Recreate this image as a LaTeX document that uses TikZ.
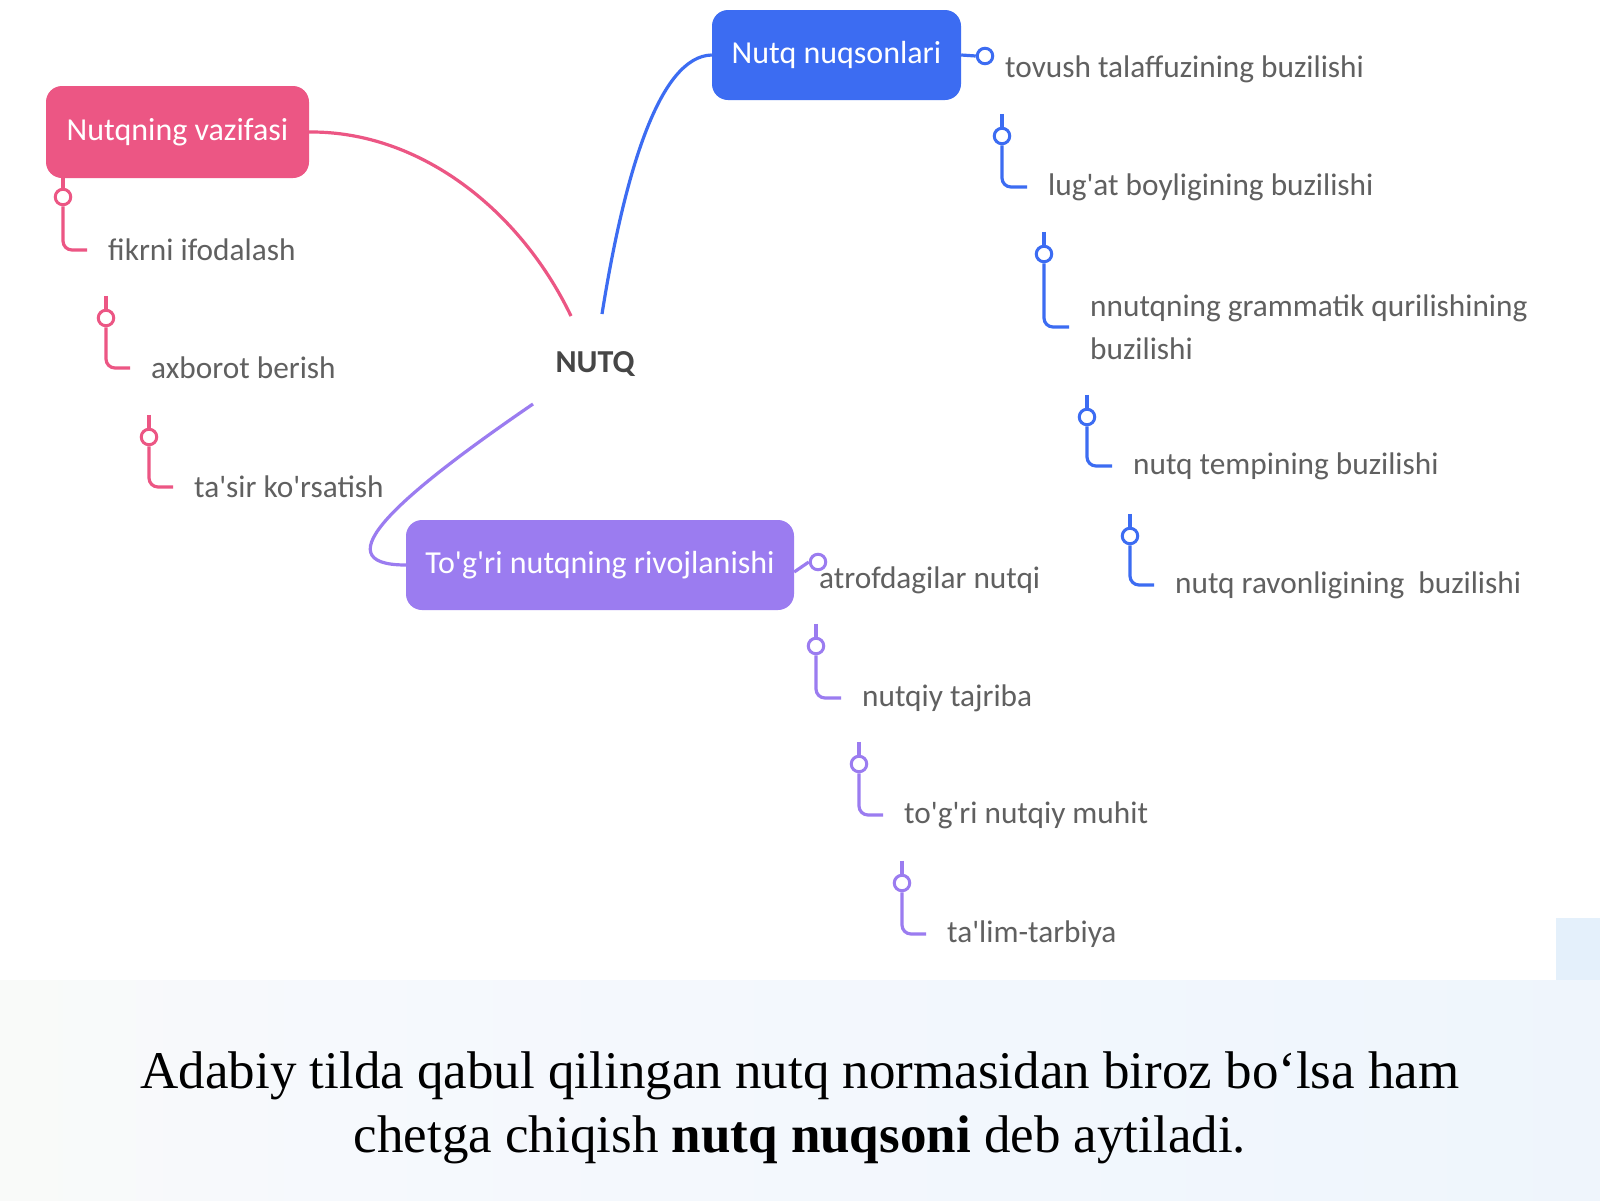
\documentclass[tikz,border=0pt]{standalone}
\usepackage{fontspec}
\newfontfamily\itemfont{Carlito}
\newfontfamily\capfont{Liberation Serif}
\definecolor{pinkc}{RGB}{236,86,132}
\definecolor{bluec}{RGB}{60,108,242}
\definecolor{purpc}{RGB}{155,124,240}
\definecolor{txtgray}{RGB}{96,96,96}
\definecolor{nutqgray}{RGB}{70,70,70}
\definecolor{creamA}{RGB}{252,248,234}
\definecolor{creamB}{RGB}{253,251,243}
\definecolor{bandB}{RGB}{246,249,253}
\definecolor{bandC}{RGB}{234,243,252}
\definecolor{stripc}{RGB}{228,240,251}
\pgfdeclarehorizontalshading{bandshade}{100bp}{color(0bp)=(creamA); color(12bp)=(creamB); color(35bp)=(bandB); color(100bp)=(bandC)}
\begin{document}
\begin{tikzpicture}[x=1pt,y=-1pt,
  topbox/.style={rounded corners=16pt, inner sep=0pt, text=white,
    font=\itemfont\fontsize{32}{38}\selectfont},
  itemtext/.style={anchor=west, inner sep=0pt, text=txtgray, align=left,
    font=\itemfont\fontsize{31.3}{43}\selectfont},
  dotc/.style={circle, line width=3pt, minimum size=15.5pt, inner sep=0pt, fill=white},
  link/.style={line width=3.2pt},
  hook/.style={line width=3.2pt, rounded corners=9pt}
]
\useasboundingbox (0,0) rectangle (1600,1200);
% background
\fill[white] (0,0) rectangle (1600,1200);
\shade[shading=bandshade] (0,980) rectangle (1600,1200);
\fill[stripc] (1556,918) rectangle (1600,980);

% central label
\node[font=\itemfont\bfseries\fontsize{32}{38}\selectfont, text=nutqgray, inner sep=0pt] (nutq) at (595,364) {NUTQ};
\coordinate (pEnd) at (571,316);
\coordinate (bEnd) at (602,314);
\coordinate (qEnd) at (533,404);

% main boxes
\node[topbox, fill=pinkc, minimum width=263pt, minimum height=92pt] (pbox) at (177.5,132) {Nutqning vazifasi};
\node[topbox, fill=bluec, minimum width=249pt, minimum height=90pt] (bbox) at (836.5,55) {Nutq nuqsonlari};
\node[topbox, fill=purpc, minimum width=388pt, minimum height=90pt] (qbox) at (600,565) {To\textquotesingle g\textquotesingle ri nutqning rivojlanishi};

% main connectors
\draw[link, pinkc] (pbox.east) .. controls (420,131) and (520,210) .. (pEnd);
\draw[link, bluec] (bbox.west) .. controls (660,56) and (625,170) .. (bEnd);
\draw[link, purpc] (qEnd) .. controls (400,495) and (320,565) .. (qbox.west);

% pink items
\node[dotc, draw=pinkc] (p1c) at (63,197) {};
\node[dotc, draw=pinkc] (p2c) at (106,318) {};
\node[dotc, draw=pinkc] (p3c) at (149,437) {};
\node[itemtext] (p1) at (108,250) {fikrni ifodalash};
\node[itemtext] (p2) at (151,368) {axborot berish};
\node[itemtext] (p3) at (194,487) {ta\textquotesingle sir ko\textquotesingle rsatish};
\draw[link, pinkc] (pbox.south -| p1c) -- (p1c.north);
\foreach \c/\t in {p1c/p1,p2c/p2,p3c/p3}{
  \draw[hook, pinkc] (\c.south) |- ([xshift=-21pt]\t.west);
}
\foreach \c in {p2c,p3c}{
  \draw[link, pinkc] ([yshift=13pt]\c.north) -- (\c.north);
}

% blue items
\node[dotc, draw=bluec] (b1c) at (985,56) {};
\node[dotc, draw=bluec] (b2c) at (1002,136) {};
\node[dotc, draw=bluec] (b3c) at (1044,254) {};
\node[dotc, draw=bluec] (b4c) at (1087,417) {};
\node[dotc, draw=bluec] (b5c) at (1130,536) {};
\node[itemtext] (b1) at (1005,69) {tovush talaffuzining buzilishi};
\node[itemtext] (b2) at (1048,187) {lug\textquotesingle at boyligining buzilishi};
\node[itemtext] (b3) at (1090,327) {nnutqning grammatik qurilishining\\buzilishi};
\node[itemtext] (b4) at (1133,466) {nutq tempining buzilishi};
\node[itemtext] (b5) at (1175,585) {nutq ravonligining\ \ buzilishi};
\draw[link, bluec] (bbox.east) -- (b1c.west);
\foreach \c/\t in {b2c/b2,b3c/b3,b4c/b4,b5c/b5}{
  \draw[link, bluec] ([yshift=13pt]\c.north) -- (\c.north);
  \draw[hook, bluec] (\c.south) |- ([xshift=-21pt]\t.west);
}

% purple items
\node[dotc, draw=purpc] (q1c) at (818,562) {};
\node[dotc, draw=purpc] (q2c) at (816,646) {};
\node[dotc, draw=purpc] (q3c) at (859,764) {};
\node[dotc, draw=purpc] (q4c) at (902,883) {};
\node[itemtext] (q1) at (819,580) {atrofdagilar nutqi};
\node[itemtext] (q2) at (862,698) {nutqiy tajriba};
\node[itemtext] (q3) at (904,815) {to\textquotesingle g\textquotesingle ri nutqiy muhit};
\node[itemtext] (q4) at (947,934) {ta\textquotesingle lim-tarbiya};
\draw[link, purpc] ([yshift=-7pt]qbox.east) -- (q1c.west);
\foreach \c/\t in {q2c/q2,q3c/q3,q4c/q4}{
  \draw[link, purpc] ([yshift=13pt]\c.north) -- (\c.north);
  \draw[hook, purpc] (\c.south) |- ([xshift=-21pt]\t.west);
}

% caption
\node[align=center, inner sep=0pt, text=black,
  font=\capfont\fontsize{53}{64}\selectfont] (cap) at (800,1108)
  {Adabiy tilda qabul qilingan nutq normasidan biroz bo‘lsa ham\\chetga chiqish \textbf{nutq nuqsoni} deb aytiladi.};
\end{tikzpicture}
\end{document}
